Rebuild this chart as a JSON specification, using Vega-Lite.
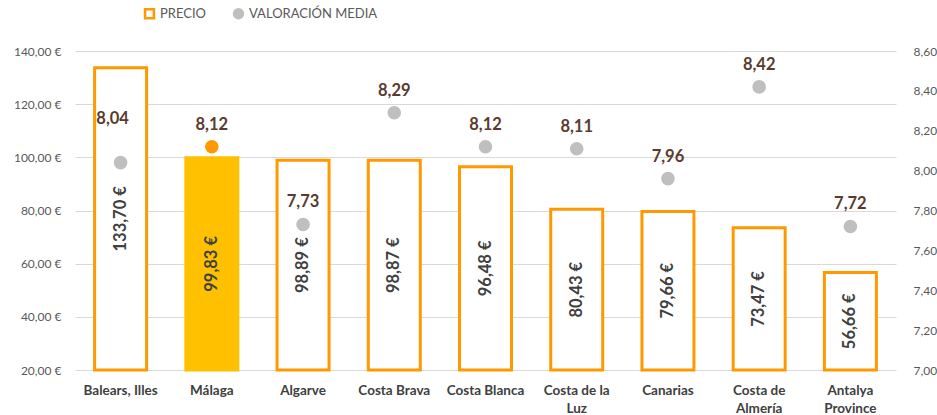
{
  "$schema": "https://vega.github.io/schema/vega-lite/v6.json",
  "width": 821,
  "height": 319,
  "autosize": {"type": "none"},
  "padding": {"left": 75, "top": 51, "right": 41, "bottom": 45},
  "background": "white",
  "data": {
    "values": [
      {"region": "Balears, Illes", "precio": 133.70, "valoracion": 8.04},
      {"region": "Málaga", "precio": 99.83, "valoracion": 8.12},
      {"region": "Algarve", "precio": 98.89, "valoracion": 7.73},
      {"region": "Costa Brava", "precio": 98.87, "valoracion": 8.29},
      {"region": "Costa Blanca", "precio": 96.48, "valoracion": 8.12},
      {"region": "Costa de la Luz", "precio": 80.43, "valoracion": 8.11},
      {"region": "Canarias", "precio": 79.66, "valoracion": 7.96},
      {"region": "Costa de Almería", "precio": 73.47, "valoracion": 8.42},
      {"region": "Antalya Province", "precio": 56.66, "valoracion": 7.72}
    ]
  },
  "encoding": {
    "x": {
      "field": "region",
      "type": "nominal",
      "sort": null,
      "scale": {"paddingInner": 0.43, "paddingOuter": 0.215},
      "axis": {
        "title": null,
        "labelAngle": 0,
        "domain": false,
        "ticks": false,
        "labelPadding": 13,
        "labelFont": "Lato",
        "labelFontWeight": "bold",
        "labelFontSize": 13.5,
        "labelColor": "#404040",
        "labelLineHeight": 18,
        "labelBaseline": "top",
        "labelExpr": "datum.label == 'Costa de la Luz' ? ['Costa de la', 'Luz'] : datum.label == 'Costa de Almería' ? ['Costa de', 'Almería'] : datum.label == 'Antalya Province' ? ['Antalya', 'Province'] : datum.label"
      }
    }
  },
  "layer": [
    {
      "mark": {"type": "bar", "strokeWidth": 3},
      "encoding": {
        "y": {
          "field": "precio",
          "type": "quantitative",
          "scale": {"domain": [20, 140], "zero": false, "nice": false},
          "axis": {
            "title": null,
            "orient": "left",
            "values": [20, 40, 60, 80, 100, 120, 140],
            "format": "$.2f",
            "grid": true,
            "gridColor": "#D9D9D9",
            "gridWidth": 1,
            "domain": false,
            "ticks": false,
            "labelPadding": 14,
            "labelFont": "Lato",
            "labelFontSize": 12,
            "labelColor": "#595959"
          }
        },
        "y2": {"datum": 20},
        "fill": {"condition": {"test": "datum.region === 'Málaga'", "value": "#FFC000"}, "value": "white"},
        "stroke": {"condition": {"test": "datum.region === 'Málaga'", "value": "#FFC000"}, "value": "#FF9900"}
      }
    },
    {
      "mark": {"type": "text", "angle": 270, "align": "center", "baseline": "middle", "font": "Lato", "fontWeight": "bold", "fontSize": 16.5, "color": "#404040"},
      "encoding": {
        "y": {"field": "precio", "type": "quantitative", "scale": {"domain": [20, 260], "zero": false, "nice": false}, "axis": null},
        "text": {"field": "precio", "type": "quantitative", "format": "$.2f"}
      }
    },
    {
      "transform": [{"fold": ["valoracion"], "as": ["serie", "val"]}],
      "mark": {"type": "point", "filled": true, "size": 185, "opacity": 1},
      "encoding": {
        "y": {
          "field": "val",
          "type": "quantitative",
          "scale": {"domain": [7, 8.6], "zero": false, "nice": false},
          "axis": {
            "title": null,
            "orient": "right",
            "values": [7, 7.2, 7.4, 7.6, 7.8, 8, 8.2, 8.4, 8.6],
            "format": ".2f",
            "grid": false,
            "domain": false,
            "ticks": false,
            "labelPadding": 17,
            "labelFont": "Lato",
            "labelFontSize": 12,
            "labelColor": "#595959"
          }
        },
        "color": {
          "field": "serie",
          "type": "nominal",
          "condition": {"test": "datum.region === 'Málaga'", "value": "#FF9900"},
          "scale": {"domain": ["precio", "valoracion"], "range": ["#FF9900", "#BFBFBF"]},
          "legend": {
            "title": null,
            "orient": "none",
            "direction": "horizontal",
            "legendX": 68,
            "legendY": -44,
            "columnPadding": 26,
            "symbolSize": 130,
            "labelFont": "Lato",
            "labelFontSize": 13,
            "labelColor": "#595959",
            "labelExpr": "datum.label == 'precio' ? 'PRECIO' : 'VALORACIÓN MEDIA'"
          }
        },
        "shape": {
          "field": "serie",
          "type": "nominal",
          "scale": {"domain": ["precio", "valoracion"], "range": ["M-1,-1H1V1H-1Z M-0.55,-0.55V0.55H0.55V-0.55Z", "circle"]},
          "legend": {
            "title": null,
            "orient": "none",
            "direction": "horizontal",
            "legendX": 68,
            "legendY": -44,
            "columnPadding": 26,
            "symbolSize": 130,
            "labelFont": "Lato",
            "labelFontSize": 13,
            "labelColor": "#595959",
            "labelExpr": "datum.label == 'precio' ? 'PRECIO' : 'VALORACIÓN MEDIA'"
          }
        }
      }
    },
    {
      "transform": [{"filter": "datum.region !== 'Balears, Illes'"}],
      "mark": {"type": "text", "align": "center", "baseline": "middle", "dy": -22, "font": "Lato", "fontWeight": "bold", "fontSize": 16.5, "color": "#5A3A2E"},
      "encoding": {
        "y": {"field": "valoracion", "type": "quantitative", "scale": {"domain": [7, 8.6], "zero": false, "nice": false}, "axis": null},
        "text": {"field": "valoracion", "type": "quantitative", "format": ".2f"}
      }
    },
    {
      "transform": [{"filter": "datum.region === 'Balears, Illes'"}],
      "mark": {"type": "text", "align": "center", "baseline": "middle", "dy": -44, "dx": -8, "font": "Lato", "fontWeight": "bold", "fontSize": 16.5, "color": "#5A3A2E"},
      "encoding": {
        "y": {"field": "valoracion", "type": "quantitative", "scale": {"domain": [7, 8.6], "zero": false, "nice": false}, "axis": null},
        "text": {"field": "valoracion", "type": "quantitative", "format": ".2f"}
      }
    }
  ],
  "resolve": {"scale": {"y": "independent"}},
  "config": {
    "view": {"stroke": null},
    "locale": {"number": {"decimal": ",", "thousands": ".", "grouping": [3], "currency": ["", " €"]}}
  }
}
